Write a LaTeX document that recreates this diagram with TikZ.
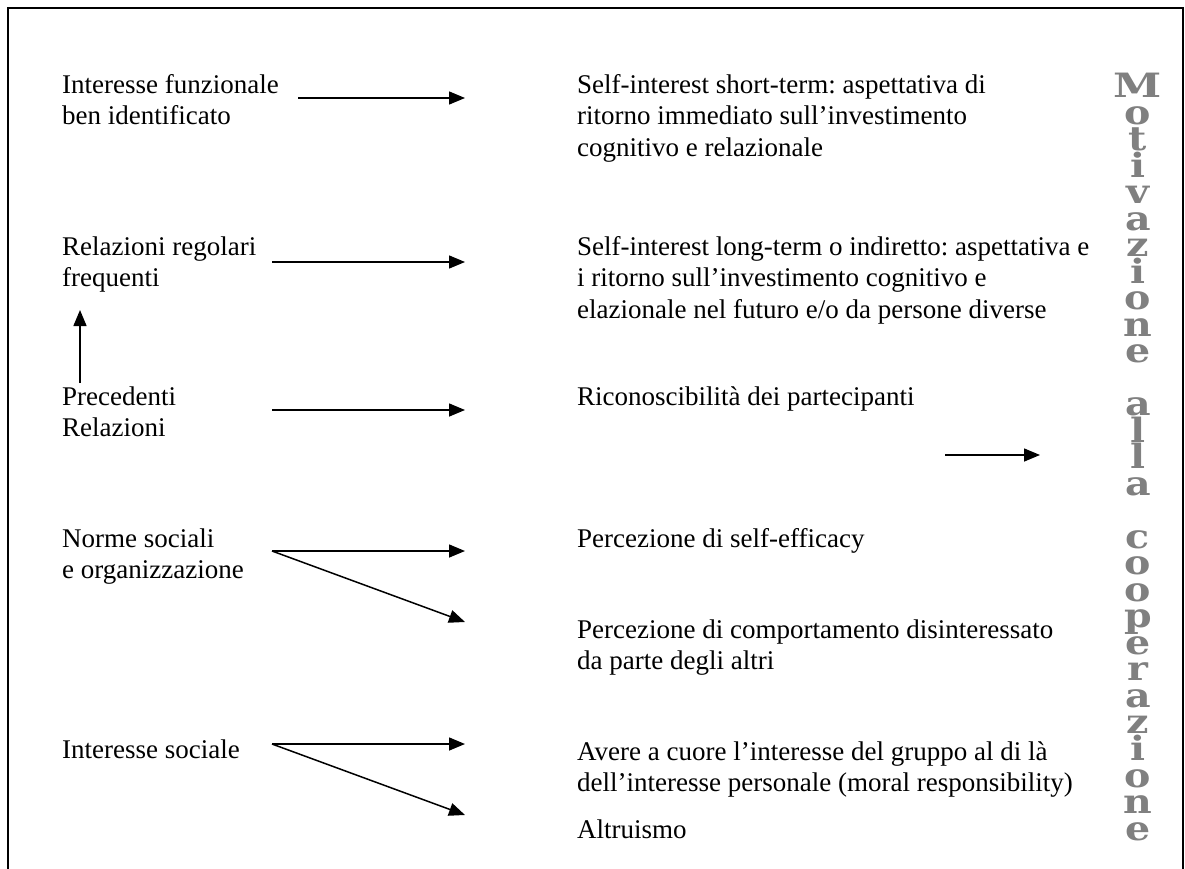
\documentclass[tikz,border=0pt]{standalone}
\usepackage{fontspec}
\setmainfont{Liberation Serif}
\newfontfamily\slabfont{DejaVu Serif}
\usetikzlibrary{arrows.meta}
\definecolor{lettergray}{RGB}{128,128,128}
\frenchspacing
\tikzset{
  lbl/.style={anchor=north west, inner sep=0pt, align=left,
    font=\fontsize{27}{31.5}\selectfont},
  link/.style={line width=1.5pt, -{Triangle[length=16pt,width=13pt]}},
  frame/.style={line width=2pt},
  vtitle/.style={anchor=base, inner sep=0pt, text=lettergray,
    font=\slabfont\bfseries}
}
% widened letter for the vertical title, one per line
\newcommand\wg[2][1.18]{\scalebox{#1}[1]{#2}\par}
\newcommand\stackedtitle{%
  \parbox[t]{60pt}{\centering\fontsize{33.5}{26.5}\selectfont
    \lineskiplimit=-100pt\parskip=0pt
    \wg[1.3]{M}\wg{o}\wg{t}\wg{i}\wg{v}\wg{a}\wg{z}\wg{i}\wg{o}\wg{n}\wg{e}%
    \mbox{}\par
    \wg{a}\wg{l}\wg{l}\wg{a}%
    \mbox{}\par
    \wg{c}\wg{o}\wg{o}\wg{p}\wg{e}\wg{r}\wg{a}\wg{z}\wg{i}\wg{o}\wg{n}\wg{e}}}
\begin{document}
\begin{tikzpicture}[x=1pt,y=-1pt]
\useasboundingbox (0,0) rectangle (1185,869);
% open frame (no bottom edge)
\draw[frame] (8,869) -- (8,8) -- (1183,8) -- (1183,869);

% left column: causes
\node[lbl] (c1) at (62,93-22) {\strut Interesse funzionale\\ben identificato};
\node[lbl] (c2) at (62,255-22) {\strut Relazioni regolari\\frequenti};
\node[lbl] (c3) at (62,405-22) {\strut Precedenti\\Relazioni};
\node[lbl] (c4) at (62,547-22) {\strut Norme sociali\\e organizzazione};
\node[lbl] (c5) at (62,758-22) {\strut Interesse sociale};

% right column: effects
\node[lbl] (e1) at (577,93-22) {\strut Self-interest short-term: aspettativa di\\ritorno immediato sull’investimento\\cognitivo e relazionale};
\node[lbl] (e2) at (577,255-22) {\strut Self-interest long-term o indiretto: aspettativa e\\i ritorno sull’investimento cognitivo e\\elazionale nel futuro e/o da persone diverse};
\node[lbl] (e3) at (577,405-22) {\strut Riconoscibilità dei partecipanti};
\node[lbl] (e4) at (577,547-22) {\strut Percezione di self-efficacy};
\node[lbl] (e5) at (577,638-22) {\strut Percezione di comportamento disinteressato\\da parte degli altri};
\node[lbl] (e6) at (577,760-22) {\strut Avere a cuore l’interesse del gruppo al di là\\dell’interesse personale (moral responsibility)};
\node[lbl] (e7) at (577,838-22) {\strut Altruismo};

% arrow end points
\coordinate (a1s) at (298,98);  \coordinate (a1e) at (465,98);
\coordinate (a2s) at (272,262); \coordinate (a2e) at (465,262);
\coordinate (a3s) at (272,410); \coordinate (a3e) at (465,410);
\coordinate (a4s) at (272,551); \coordinate (a4e) at (465,551);
\coordinate (a4d) at (465,622);
\coordinate (a5s) at (272,744); \coordinate (a5e) at (465,744);
\coordinate (a5d) at (465,815);
\coordinate (ups) at (80,383);  \coordinate (upe) at (80,310);
\coordinate (mvs) at (945,455); \coordinate (mve) at (1040,455);

\draw[link] (a1s) -- (a1e);
\draw[link] (a2s) -- (a2e);
\draw[link] (a3s) -- (a3e);
\draw[link] (a4s) -- (a4e);
\draw[link] (a4s) -- (a4d);
\draw[link] (a5s) -- (a5e);
\draw[link] (a5s) -- (a5d);
\draw[link] (ups) -- (upe);
\draw[link] (mvs) -- (mve);

% vertical title
\node[vtitle] (title) at (1138,98) {\stackedtitle};
\end{tikzpicture}
\end{document}
